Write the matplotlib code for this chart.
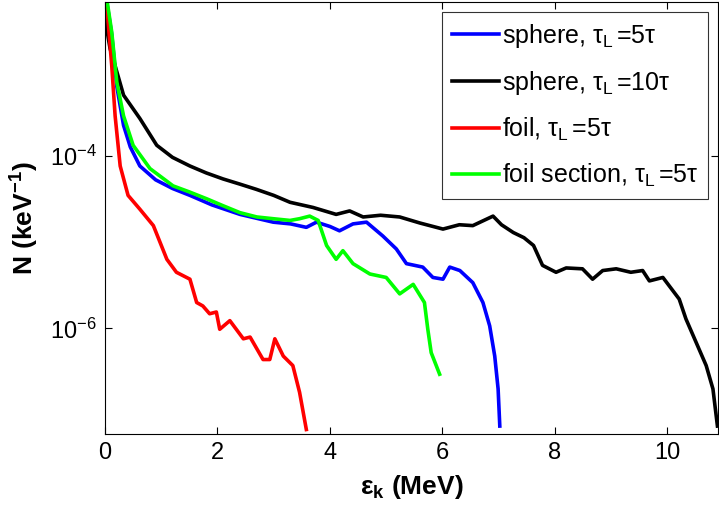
import numpy as np
import matplotlib.pyplot as plt
from matplotlib.ticker import FixedLocator, NullLocator

plt.rcParams['font.family'] = ['Liberation Sans', 'DejaVu Sans']
plt.rcParams['mathtext.fontset'] = 'custom'
plt.rcParams['mathtext.rm'] = 'Liberation Sans'
plt.rcParams['mathtext.it'] = 'Liberation Sans:italic'
plt.rcParams['mathtext.bf'] = 'Liberation Sans:bold'

# ── data (energy in MeV, log10 of N) ─────────────────────────────
sph5_x = [0.00, 0.05, 0.12, 0.21, 0.33, 0.45, 0.62, 0.90, 1.20, 1.51, 1.90, 2.40,
          2.99, 3.30, 3.58, 3.76, 4.00, 4.17, 4.41, 4.65, 4.94, 5.18, 5.36, 5.65,
          5.83, 6.01, 6.13, 6.31, 6.54, 6.72, 6.84, 6.93, 6.99, 7.02]
sph5_y = [-2.10, -2.30, -2.60, -3.20, -3.65, -3.90, -4.12, -4.28, -4.38, -4.46, -4.57, -4.68,
          -4.77, -4.79, -4.83, -4.77, -4.82, -4.87, -4.79, -4.77, -4.93, -5.08, -5.25, -5.29,
          -5.41, -5.43, -5.29, -5.33, -5.47, -5.70, -5.97, -6.32, -6.70, -7.13]

sph10_x = [0.00, 0.02, 0.09, 0.18, 0.33, 0.62, 0.92, 1.20, 1.51, 1.80, 2.10, 2.40,
           2.69, 3.00, 3.29, 3.70, 4.11, 4.35, 4.59, 4.90, 5.24, 5.60, 6.01, 6.30,
           6.54, 6.90, 7.05, 7.26, 7.45, 7.62, 7.78, 8.02, 8.20, 8.49, 8.67, 8.85,
           9.09, 9.35, 9.56, 9.68, 9.92, 10.21, 10.33, 10.51, 10.69, 10.81, 10.89]
sph10_y = [-2.30, -2.49, -2.76, -2.96, -3.30, -3.57, -3.88, -4.02, -4.12, -4.20, -4.27, -4.33,
           -4.39, -4.46, -4.54, -4.60, -4.68, -4.64, -4.71, -4.69, -4.71, -4.78, -4.85, -4.80,
           -4.81, -4.70, -4.80, -4.89, -4.95, -5.04, -5.27, -5.35, -5.30, -5.31, -5.43, -5.33,
           -5.31, -5.35, -5.33, -5.45, -5.41, -5.66, -5.89, -6.16, -6.43, -6.70, -7.13]

foil_x = [0.00, 0.03, 0.12, 0.18, 0.27, 0.41, 0.62, 0.86, 1.10, 1.27, 1.51, 1.63,
          1.74, 1.86, 1.98, 2.04, 2.22, 2.46, 2.58, 2.81, 2.93, 3.02, 3.17, 3.34,
          3.46, 3.58]
foil_y = [-2.10, -2.25, -2.96, -3.54, -4.12, -4.46, -4.62, -4.81, -5.20, -5.35, -5.43, -5.70,
          -5.74, -5.83, -5.81, -6.01, -5.91, -6.12, -6.10, -6.36, -6.36, -6.12, -6.32, -6.43,
          -6.74, -7.17]

sect_x = [0.00, 0.03, 0.12, 0.21, 0.33, 0.50, 0.80, 1.21, 1.50, 1.81, 2.10, 2.40,
          2.70, 2.99, 3.29, 3.46, 3.64, 3.79, 3.94, 4.11, 4.23, 4.41, 4.71, 5.00,
          5.24, 5.48, 5.68, 5.74, 5.80, 5.95]
sect_y = [-2.10, -2.18, -2.57, -3.15, -3.54, -3.88, -4.15, -4.35, -4.42, -4.50, -4.58, -4.66,
          -4.71, -4.73, -4.75, -4.73, -4.70, -4.75, -5.04, -5.20, -5.10, -5.25, -5.37, -5.41,
          -5.60, -5.49, -5.70, -6.01, -6.28, -6.53]

SUB_L = '$_{\\mathregular{L}}\\,$'
series = [
    (sph5_x, sph5_y, '#0000ff', 'sphere, τ' + SUB_L + '=5τ'),
    (sph10_x, sph10_y, '#000000', 'sphere, τ' + SUB_L + '=10τ'),
    (foil_x, foil_y, '#ff0000', 'foil, τ' + SUB_L + '=5τ'),
    (sect_x, sect_y, '#00ff00', 'foil section, τ' + SUB_L + '=5τ'),
]

fig = plt.figure(figsize=(7.19, 5.14), dpi=100)
ax = fig.add_axes([105 / 719, 80 / 514, 613 / 719, 432 / 514])

for xs, ys, c, lab in series:
    ax.plot(xs, 10.0 ** np.array(ys), color=c, lw=2.6, label=lab)

ax.set_yscale('log')
ax.set_xlim(0, 10.9)
ax.set_ylim(6e-8, 6e-3)
ax.xaxis.set_major_locator(FixedLocator([0, 2, 4, 6, 8, 10]))
ax.yaxis.set_major_locator(FixedLocator([1e-6, 1e-4]))
ax.yaxis.set_minor_locator(NullLocator())
ax.tick_params(direction='in', top=True, right=True, labelsize=17, length=5, width=0.8,
               pad=6)
for s in ax.spines.values():
    s.set_linewidth(0.8)

ax.set_xlabel(r'$\mathbf{\varepsilon_k}$ (MeV)', fontsize=19, fontweight='bold', labelpad=6)
ax.set_ylabel(r'N (keV$^{\mathbf{-1}}$)', fontsize=19, fontweight='bold', labelpad=6)

leg = ax.legend(loc='upper right', fontsize=18, frameon=True, fancybox=False,
                edgecolor='black', handlelength=1.9, borderaxespad=0.4,
                labelspacing=0.75, handletextpad=0.1, borderpad=0.4)
leg.get_frame().set_linewidth(0.8)

fig.savefig('out.png', dpi=100)
